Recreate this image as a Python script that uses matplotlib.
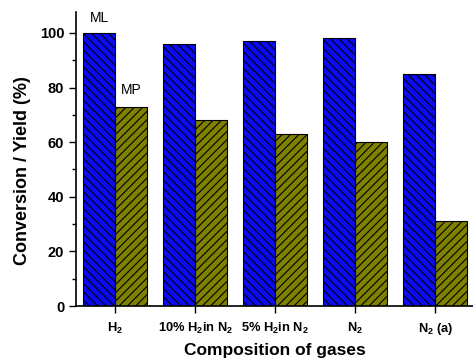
import numpy as np
import matplotlib
matplotlib.use('Agg')
import matplotlib.pyplot as plt

plt.rcParams['font.family'] = ['Liberation Sans', 'DejaVu Sans']
plt.rcParams['mathtext.fontset'] = 'custom'
plt.rcParams['mathtext.rm'] = 'Liberation Sans:bold'
plt.rcParams['mathtext.it'] = 'Liberation Sans:bold'
plt.rcParams['mathtext.bf'] = 'Liberation Sans:bold'
plt.rcParams['hatch.linewidth'] = 0.8

categories = ['H$_2$', '10% H$_2$in N$_2$', '5% H$_2$in N$_2$', 'N$_2$', 'N$_2$ (a)']
ml_values = [100, 96, 97, 98, 85]
mp_values = [73, 68, 63, 60, 31]

fig = plt.figure(figsize=(4.73, 3.6), dpi=100)
ax = fig.add_axes([0.161, 0.15, 0.839, 0.817])

x = np.arange(len(categories))
w = 0.4
ax.bar(x - w / 2, ml_values, w, color='#0a0af5', edgecolor='black', hatch='\\\\\\\\', linewidth=0.8)
ax.bar(x + w / 2, mp_values, w, color='#808000', edgecolor='black', hatch='////', linewidth=0.8)

ax.text(x[0] - w / 2, 103, 'ML', ha='center', va='bottom', fontsize=10)
ax.text(x[0] + w / 2, 76.5, 'MP', ha='center', va='bottom', fontsize=10)

ax.set_xlim(-0.49, 4.47)
ax.set_ylim(0, 107.7)
ax.set_xticks(x)
ax.set_xticklabels(categories, fontsize=9.3, fontweight='bold')
ax.set_yticks(np.arange(0, 101, 20))
ax.set_yticks(np.arange(10, 100, 20), minor=True)
ax.tick_params(axis='y', labelsize=10.5, width=1, length=5)
ax.tick_params(axis='y', which='minor', length=3, width=1)
ax.tick_params(axis='x', width=1, length=5, pad=6)
for lbl in ax.get_yticklabels():
    lbl.set_fontweight('bold')

ax.spines['top'].set_visible(False)
ax.spines['right'].set_visible(False)
ax.spines['left'].set_linewidth(1.2)
ax.spines['bottom'].set_linewidth(1.2)

ax.set_ylabel('Conversion / Yield (%)', fontsize=13, fontweight='bold')
ax.yaxis.set_label_coords(-0.115, 0.46)
ax.set_xlabel('Composition of gases', fontsize=12.5, fontweight='bold', labelpad=4)

fig.savefig('out.png', dpi=100)
